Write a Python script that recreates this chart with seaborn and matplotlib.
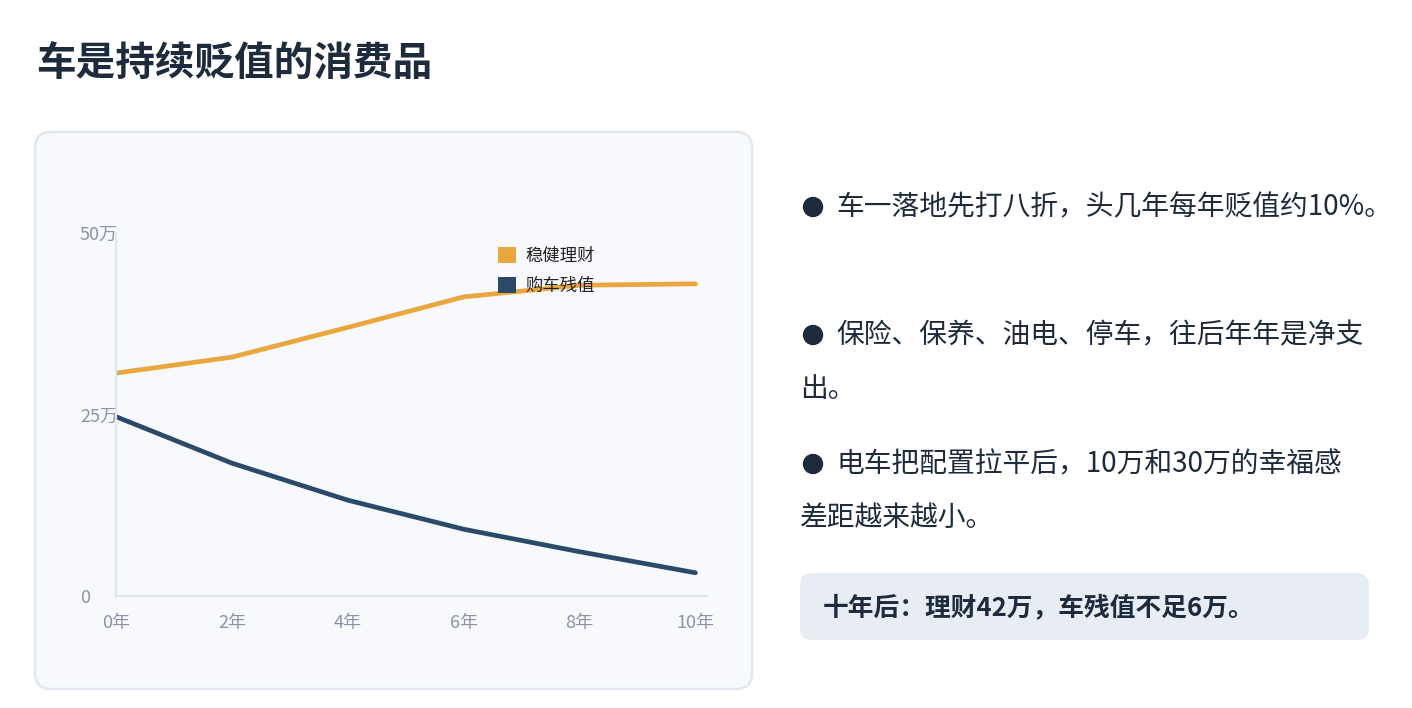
import numpy as np
import pandas as pd
import seaborn as sns
import matplotlib.pyplot as plt
from matplotlib.patches import FancyBboxPatch, Circle, Patch

# data (万元)
years = [0, 2, 4, 6, 8, 10]
year_labels = ["0年", "2年", "4年", "6年", "8年", "10年"]
invest = [30.7, 32.9, 37.0, 41.2, 42.8, 43.0]
car_value = [24.7, 18.3, 13.2, 9.2, 6.1, 3.2]
series_names = ["稳健理财", "购车残值"]
y_ticks = [0, 25, 50]
y_tick_labels = ["0", "25万", "50万"]

title = "车是持续贬值的消费品"
bullets = [
    ["车一落地先打八折，头几年每年贬值约10%。"],
    ["保险、保养、油电、停车，往后年年是净支", "出。"],
    ["电车把配置拉平后，10万和30万的幸福感", "差距越来越小。"],
]
summary = "十年后：理财42万，车残值不足6万。"

ORANGE = "#e9a73d"
NAVY = "#2b4a69"
DARK = "#1e2b3c"
GRAY = "#8a94a6"

sns.set_theme(style="white")
plt.rcParams['font.family'] = ['Noto Sans CJK SC', 'DejaVu Sans']

df = pd.DataFrame({
    "year": years * 2,
    "value": invest + car_value,
    "series": [series_names[0]] * len(years) + [series_names[1]] * len(years),
})

fig = plt.figure(figsize=(14.12, 7.08), dpi=100)
fig.patch.set_facecolor("white")

# background layer in pixel coordinates
bg = fig.add_axes([0, 0, 1, 1])
bg.set_xlim(0, 1412)
bg.set_ylim(708, 0)
bg.axis("off")

bg.add_patch(FancyBboxPatch((35, 132), 717, 557, boxstyle="round,pad=0,rounding_size=16",
                            facecolor="#f7f9fc", edgecolor="#e3e8ef", linewidth=1.8))
bg.text(36, 64, title, fontsize=28.5, fontweight="bold", color=DARK, va="center", ha="left")

# right side text
rows = [(207, None), (335, 389), (464, 518)]
for (y1, y2), lines in zip(rows, bullets):
    bg.add_patch(Circle((813, y1), 9.5, color=DARK))
    bg.text(836, y1, lines[0], fontsize=20, color=DARK, va="center", ha="left")
    if y2 is not None:
        bg.text(800, y2, lines[1], fontsize=20, color=DARK, va="center", ha="left")

bg.add_patch(FancyBboxPatch((800, 573), 569, 67, boxstyle="round,pad=0,rounding_size=12",
                            facecolor="#e8edf4", edgecolor="none"))
bg.text(823, 608, summary, fontsize=18.5, fontweight="bold", color=DARK, va="center", ha="left")

# chart
ax = fig.add_axes([116 / 1412, 1 - 596 / 708, (707 - 116) / 1412, (596 - 233) / 708])
ax.set_facecolor("none")
sns.lineplot(data=df, x="year", y="value", hue="series", palette=[ORANGE, NAVY],
             linewidth=3.4, ax=ax, legend=False)
ax.set_xlim(0, 10.2)
ax.set_ylim(0, 50)
ax.set_xticks(years)
ax.set_xticklabels(year_labels)
ax.set_yticks(y_ticks)
ax.set_yticklabels(y_tick_labels)
ax.set_xlabel("")
ax.set_ylabel("")
ax.tick_params(axis="both", length=0, labelsize=13, labelcolor=GRAY)
ax.tick_params(axis="y", pad=26)
ax.tick_params(axis="x", pad=13)
for lab in ax.get_yticklabels():
    lab.set_horizontalalignment("left")
for side in ["top", "right"]:
    ax.spines[side].set_visible(False)
for side in ["left", "bottom"]:
    ax.spines[side].set_color("#e2e7ee")
    ax.spines[side].set_linewidth(1.6)

handles = [Patch(facecolor=ORANGE, edgecolor="none"), Patch(facecolor=NAVY, edgecolor="none")]
ax.legend(handles, series_names, loc="upper left", bbox_to_anchor=(0.646, 0.962),
          frameon=False, fontsize=12.5, handlelength=1.05, handleheight=1.05,
          handletextpad=0.55, labelspacing=0.72, borderpad=0, borderaxespad=0,
          labelcolor="#222222")

fig.savefig("out.png", dpi=100, facecolor="white")
